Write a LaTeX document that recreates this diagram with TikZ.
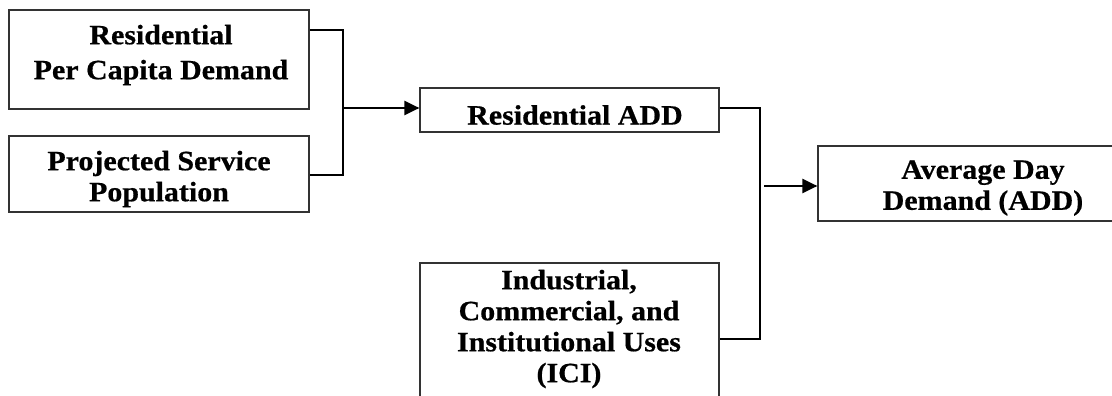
\documentclass[tikz,border=0pt]{standalone}
\usepackage{fontspec}
\setmainfont{Liberation Serif}[FakeStretch=1.07, BoldFeatures={FakeStretch=1.07, FakeBold=0.6}]
\usetikzlibrary{arrows.meta}
\begin{document}
\begin{tikzpicture}[x=1pt,y=-1pt,
  box/.style={draw=black!80, line width=1.2pt, inner sep=0pt},
  txt/.style={align=center, font=\bfseries\fontsize{28}{31}\selectfont, inner sep=0pt},
  conn/.style={line width=2.4pt, line join=miter},
  arr/.style={conn,-{Triangle[length=15pt,width=14pt]}}]
\useasboundingbox (0,0) rectangle (1112,396);
\clip (0,0) rectangle (1112,396);
% boxes
\node[box, minimum width=300pt, minimum height=99pt] (rpc) at (159,59.5) {};
\node[txt, font=\bfseries\fontsize{28}{35}\selectfont] (rpct) at (161,55) {Residential\\Per Capita Demand};
\node[box, minimum width=300pt, minimum height=76pt] (pop) at (159,174) {};
\node[txt] (popt) at (159,179) {Projected Service\\Population};
\node[box, minimum width=299pt, minimum height=44pt] (radd) at (569.5,110) {};
\node[txt] (raddt) at (575,115) {Residential ADD};
\node[box, minimum width=299pt, minimum height=137pt] (ici) at (569.5,331.5) {};
\node[txt] (icit) at (569,329) {Industrial,\\Commercial, and\\Institutional Uses\\(ICI)};
\node[box, minimum width=332pt, minimum height=75pt] (add) at (984,183.5) {};
\node[txt] (addt) at (983,188) {Average Day\\Demand (ADD)};
% junctions
\coordinate (j1top) at (343,30);
\coordinate (j1bot) at (343,175);
\coordinate (j1) at (343,108);
\coordinate (j2top) at (760,108);
\coordinate (j2bot) at (760,339);
\coordinate (j2) at (764,186);
% connectors
\draw[conn] (rpc.east |- j1top) -- (j1top) -- (j1bot) -- (pop.east |- j1bot);
\draw[arr] (j1) -- (radd.west |- j1);
\draw[conn] (radd.east |- j2top) -- (j2top) -- (j2bot) -- (ici.east |- j2bot);
\draw[arr] (j2) -- (add.west |- j2);
\end{tikzpicture}
\end{document}
